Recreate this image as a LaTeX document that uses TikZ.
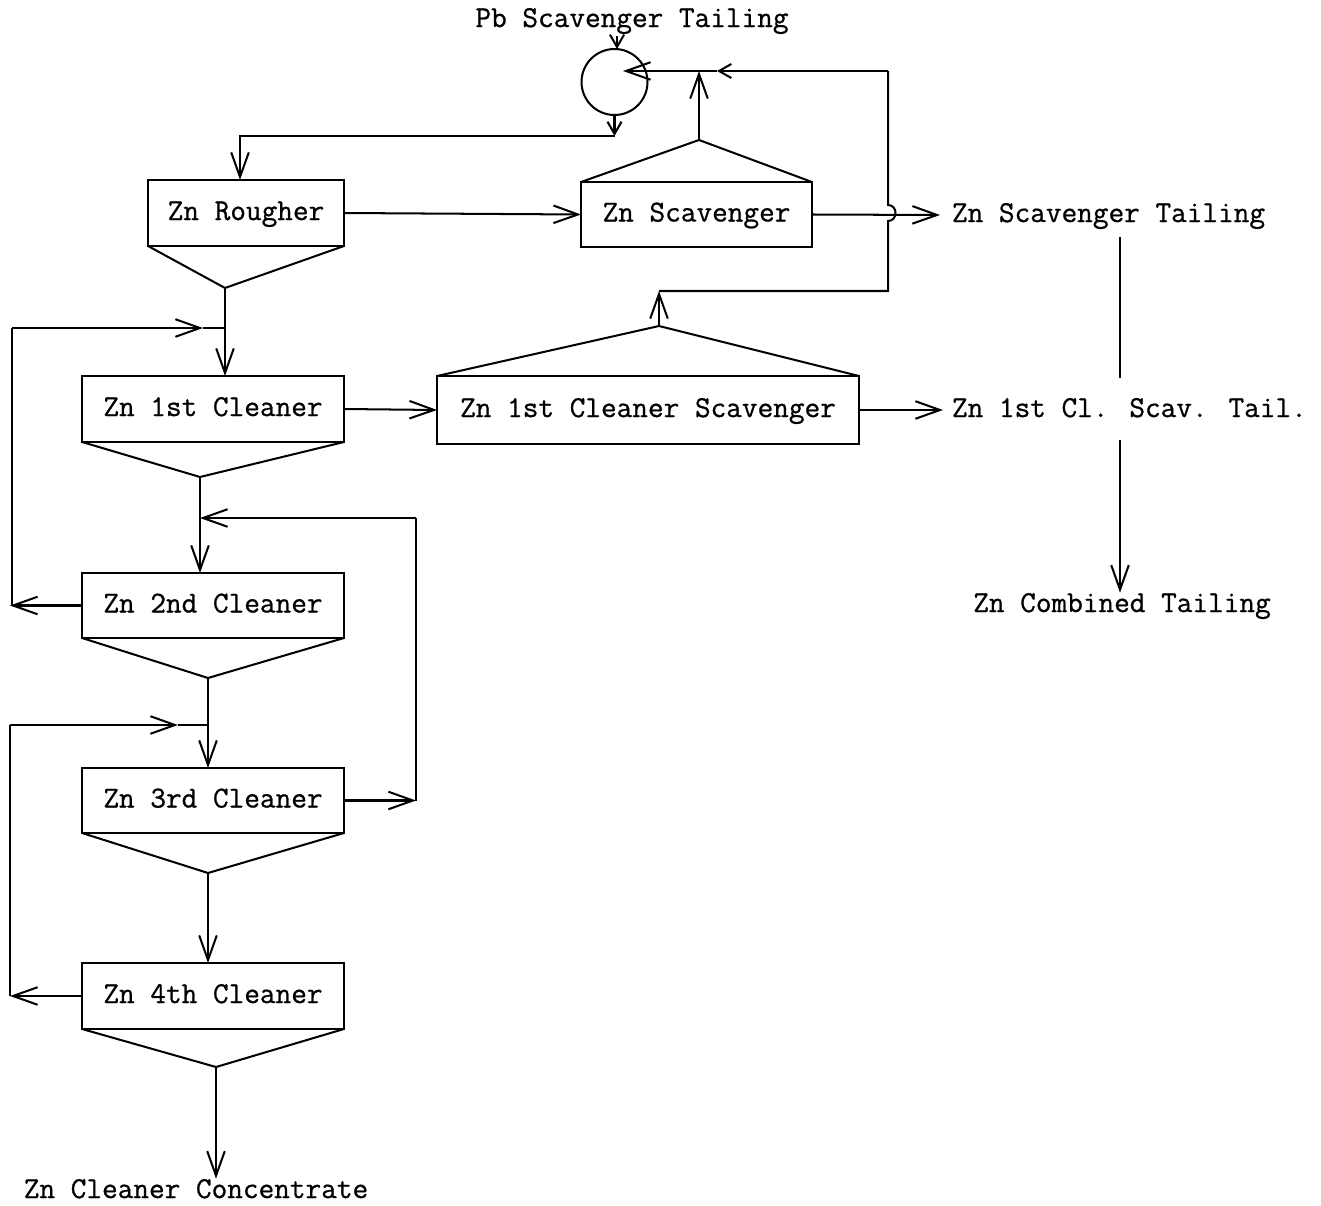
\documentclass[tikz,border=0pt]{standalone}
\usepackage{fontspec}
\usetikzlibrary{arrows.meta}
\newfontfamily\typewriter{Latin Modern Mono}[FakeBold=0.8]
\begin{document}
\begin{tikzpicture}[x=0.02cm,y=-0.02cm, line width=1.15pt,
  lbl/.style={font=\fontsize{17.3pt}{20pt}\selectfont\typewriter\bfseries, inner sep=0pt, outer sep=0pt,
    text height=11pt, text depth=3pt},
  unit/.style={lbl, draw, minimum height=1.32cm},
  arr/.style={-{Straight Barb[length=14pt,width=10pt]}},
  sarr/.style={-{Straight Barb[length=7pt,width=8pt]}},
]
\fill[white] (0,0) rectangle (1321,1206);
\useasboundingbox (0,0) rectangle (1321,1206);

% flotation cells
\node[unit, minimum width=3.92cm] (rough) at (246,213) {Zn Rougher};
\node[unit, minimum width=4.62cm, minimum height=1.30cm] (scav) at (696.5,214.5) {Zn Scavenger};
\node[unit, minimum width=5.24cm] (cl1) at (213,409) {Zn 1st Cleaner};
\node[unit, minimum width=8.44cm, minimum height=1.36cm] (cls) at (648,410) {Zn 1st Cleaner Scavenger};
\node[unit, minimum width=5.24cm, minimum height=1.30cm] (cl2) at (213,605.5) {Zn 2nd Cleaner};
\node[unit, minimum width=5.24cm, minimum height=1.30cm] (cl3) at (213,800.5) {Zn 3rd Cleaner};
\node[unit, minimum width=5.24cm] (cl4) at (213,996) {Zn 4th Cleaner};

% conditioner
\node[draw, circle, minimum size=1.32cm, inner sep=0pt, outer sep=0pt] (cond) at (614.5,82) {};

% stream labels
\node[lbl, inner sep=2pt] (pbtail) at (632,20) {Pb Scavenger Tailing};
\node[lbl, anchor=west] (scavtail) at (952,215) {Zn Scavenger Tailing};
\node[lbl, anchor=west] (clstail) at (952,410) {Zn 1st Cl. Scav. Tail.};
\node[lbl] (combtail) at (1122,605) {Zn Combined Tailing};
\node[lbl] (conc) at (196,1191) {Zn Cleaner Concentrate};

% froth launders (triangles) and their apexes
\coordinate (ra) at (225,288);
\coordinate (sa) at (699,140);
\coordinate (c1a) at (200,477);
\coordinate (csa) at (659,326);
\coordinate (c2a) at (208,678);
\coordinate (c3a) at (208,873);
\coordinate (c4a) at (216,1067);
\draw (rough.south west) -- (ra) -- (rough.south east);
\draw (scav.north west) -- (sa) -- (scav.north east);
\draw (cl1.south west) -- (c1a) -- (cl1.south east);
\draw (cls.north west) -- (csa) -- (cls.north east);
\draw (cl2.south west) -- (c2a) -- (cl2.south east);
\draw (cl3.south west) -- (c3a) -- (cl3.south east);
\draw (cl4.south west) -- (c4a) -- (cl4.south east);

% junction points
\coordinate (top) at (888,71);
\coordinate (jr) at (888,291);
\coordinate (j1) at (225,328);
\coordinate (j2) at (200,518);
\coordinate (j3) at (208,725);
\coordinate (cb) at (614.5,136);

% feed to conditioner and conditioner to rougher
\draw[sarr] (pbtail.south -| 617,0) -- (617,49);
\draw[sarr] (cond.south) -- (cb);
\draw[arr] (cb) -- (240,136) -- (rough.north -| 240,0);

% rougher and scavenger
\draw[arr] (rough.east) -- (scav.west);
\draw[arr] (sa) -- (top -| sa);
\draw[arr] (scav.east) -- (scavtail.west -| 940,0);

% scavenger / cleaner-scavenger concentrate return to conditioner
\draw[arr] (csa) -- (jr -| csa);
\draw (jr -| csa) -- (jr) -- (888,221)
  .. controls (898,221) and (898,205) .. (888,205) -- (top);
\draw[sarr] (top) -- (717,71);
\draw[arr] (717,71) -- (623,71);

% 1st cleaner and cleaner scavenger
\draw[arr] (cl1.east) -- (cls.west);
\draw[arr] (cls.east) -- (clstail.west -| 943,0);

% combined tailing
\draw (1120,237) -- (1120,378);
\draw[arr] (1120,440) -- (combtail.north -| 1120,0);

% cleaner sequence
\draw[arr] (ra) -- (cl1.north -| ra);
\draw[arr] (c1a) -- (cl2.north -| c1a);
\draw[arr] (c2a) -- (cl3.north -| c2a);
\draw[arr] (c3a) -- (cl4.north -| c3a);
\draw[arr] (c4a) -- (conc.north -| c4a);

% 2nd cleaner tailing back to 1st cleaner feed
\draw[arr] (cl2.west) -- (10,605.5);
\draw (12,605.5) -- (12,328);
\draw[arr] (12,328) -- (203,328);
\draw (203,328) -- (j1);

% 3rd cleaner tailing back to 2nd cleaner feed
\draw[arr] (cl3.east) -- (416,800.5);
\draw (416,800.5) -- (416,518);
\draw[arr] (416,518) -- (j2);

% 4th cleaner tailing back to 3rd cleaner feed
\draw[arr] (cl4.west) -- (10,996);
\draw (10,996) -- (10,725);
\draw[arr] (10,725) -- (178,725);
\draw (178,725) -- (j3);
\end{tikzpicture}
\end{document}
